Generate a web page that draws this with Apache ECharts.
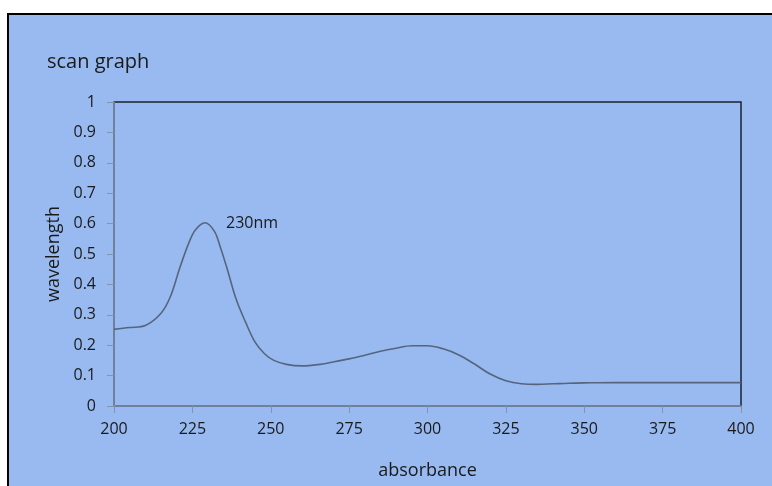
<!DOCTYPE html>
<html>
<head>
<meta charset="utf-8">
<script src="https://cdn.jsdelivr.net/npm/echarts@6/dist/echarts.min.js"></script>
<style>
html,body{margin:0;padding:0;background:#fff;}
#chart{width:772px;height:486px;}
</style>
</head>
<body>
<div id="chart"></div>
<script>
var wavelengths = [200,205,210,215,218,221,224,226,229,232,234,236,239,242,245,248,251,255,260,265,270,275,280,285,290,295,300,305,310,315,320,325,330,335,340,345,350,360,370,380,390,400];
var absorbance  = [0.252,0.258,0.265,0.305,0.36,0.455,0.54,0.58,0.603,0.575,0.52,0.455,0.35,0.275,0.21,0.172,0.15,0.137,0.132,0.136,0.145,0.155,0.167,0.18,0.19,0.198,0.198,0.188,0.168,0.138,0.105,0.083,0.073,0.071,0.073,0.075,0.076,0.077,0.077,0.077,0.077,0.077];
var xTicks = [200,225,250,275,300,325,350,375,400];
var yTicks = [0,0.1,0.2,0.3,0.4,0.5,0.6,0.7,0.8,0.9,1];
var peakLabel = '230nm';
var peakAt = [230, 0.6];

var data = wavelengths.map(function(w,i){return [w, absorbance[i]];});
var font = '"Open Sans", "Noto Sans", sans-serif';
var chart = echarts.init(document.getElementById('chart'));
chart.setOption({
  backgroundColor: '#ffffff',
  animation: false,
  graphic: [{
    type: 'rect', z: -10, silent: true,
    shape: {x: 8, y: 14, width: 800, height: 500},
    style: {fill: '#98baf0', stroke: '#000', lineWidth: 2}
  }],
  title: {
    text: 'scan graph', left: 42, top: 47,
    textStyle: {fontFamily: font, fontSize: 20, fontWeight: 'normal', color: '#1a1a1a'}
  },
  grid: {
    left: 114, top: 102, right: 31, bottom: 80,
    show: true, borderColor: '#1a2230', borderWidth: 1.5, backgroundColor: 'transparent'
  },
  xAxis: {
    type: 'value', min: 200, max: 400, interval: 25,
    name: 'absorbance', nameLocation: 'middle', nameGap: 56,
    nameTextStyle: {fontFamily: font, fontSize: 18, color: '#1a1a1a'},
    axisLine: {show: true, lineStyle: {color: '#8193b0', width: 1.5}},
    axisTick: {show: true, inside: false, length: 7, lineStyle: {color: '#8193b0'}},
    axisLabel: {fontFamily: font, fontSize: 16, color: '#1a1a1a', margin: 15,
      formatter: function(v){return xTicks.indexOf(v) >= 0 ? String(v) : '';}},
    splitLine: {show: false}
  },
  yAxis: {
    type: 'value', min: 0, max: 1, interval: 0.1,
    name: 'wavelength', nameLocation: 'middle', nameGap: 51, nameRotate: 90,
    nameTextStyle: {fontFamily: font, fontSize: 18, color: '#1a1a1a'},
    axisLine: {show: true, lineStyle: {color: '#8193b0', width: 1.5}},
    axisTick: {show: true, inside: false, length: 7, lineStyle: {color: '#8193b0'}},
    axisLabel: {fontFamily: font, fontSize: 16, color: '#1a1a1a', margin: 18,
      formatter: function(v){
        var r = Math.round(v*10)/10;
        return yTicks.indexOf(r) >= 0 ? String(r) : '';
      }},
    splitLine: {show: false}
  },
  series: [{
    type: 'line',
    data: data,
    smooth: 0.35,
    showSymbol: false,
    lineStyle: {color: '#56657e', width: 1.6},
    markPoint: {
      symbol: 'circle', symbolSize: 2,
      itemStyle: {color: 'rgba(0,0,0,0)'},
      data: [{coord: peakAt}],
      label: {show: true, position: 'right', distance: 17, formatter: peakLabel,
        fontFamily: font, fontSize: 16, color: '#1a1a1a'}
    }
  }]
});
</script>
</body>
</html>
